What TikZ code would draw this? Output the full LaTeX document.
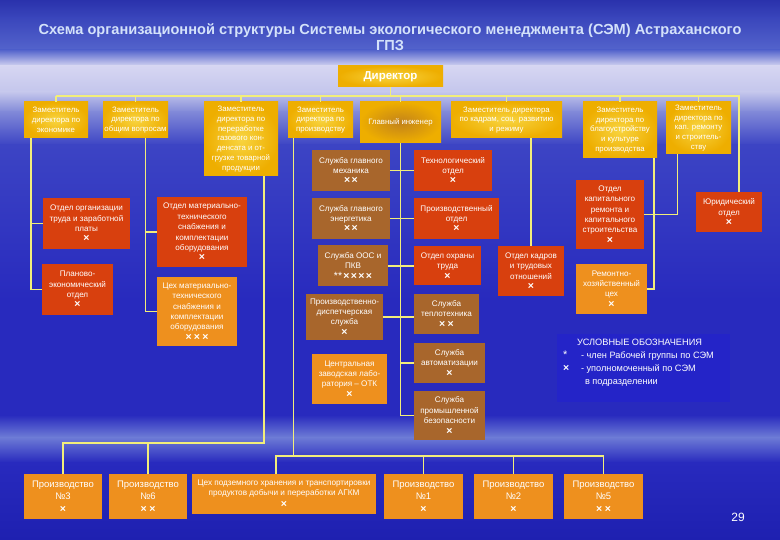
\documentclass[tikz,border=0pt]{standalone}
\usepackage{fontspec}
\setmainfont{Liberation Sans}
\usetikzlibrary{calc}
\usetikzlibrary{positioning, shapes}

\definecolor{titleblue}{HTML}{D4E2FA}
\definecolor{yellowbox}{HTML}{EEAE00}
\definecolor{yellowlight}{HTML}{F8D440}
\definecolor{glcenter}{HTML}{C2821A}
\definecolor{redbox}{HTML}{D8400E}
\definecolor{brownbox}{HTML}{A8662C}
\definecolor{orangebox}{HTML}{EE901E}
\definecolor{linkyellow}{HTML}{F2EE7A}
\definecolor{legendblue}{HTML}{2424C8}
\definecolor{bgTop}{HTML}{2A32AC}
\definecolor{bgUpper}{HTML}{3A46BC}
\definecolor{bgTitle}{HTML}{5464CC}
\definecolor{bgPale}{HTML}{D6D6F2}
\definecolor{bgSoft}{HTML}{C4C6EC}
\definecolor{bgFade}{HTML}{8088D8}
\definecolor{bgMid}{HTML}{3C44C4}
\definecolor{bgDeep}{HTML}{282ABE}
\definecolor{bgStreak}{HTML}{6E7CD6}
\definecolor{bgBottom}{HTML}{1E20B0}

\newcommand\crs{{\fontsize{10.5}{10.5}\selectfont\bfseries ×}}

\tikzset{
  sz/.style 2 args={minimum width=#1pt, minimum height=#2pt},
  box/.style={rectangle, align=center, text=white, inner sep=1pt, font=\fontsize{8.1}{10.4}\selectfont},
  ybox/.style={box, inner color=yellowlight, outer color=yellowbox, font=\fontsize{7.8}{9.8}\selectfont},
  rbox/.style={box, fill=redbox},
  bbox/.style={box, fill=brownbox},
  obox/.style={box, fill=orangebox},
  pbox/.style={obox, font=\fontsize{9.5}{12.5}\selectfont},
  link/.style={draw=linkyellow, line width=1.4pt}
}

\begin{document}
\begin{tikzpicture}[x=1pt,y=-1pt]
\useasboundingbox (0,0) rectangle (780,540);
% фон
\shade [top color=bgTop, bottom color=bgUpper] (0,0) rectangle (780,18.5);
\shade [top color=bgUpper, bottom color=bgTitle] (0,18) rectangle (780,50.5);
\shade [top color=bgTitle, bottom color=bgPale] (0,50) rectangle (780,66.5);
\shade [top color=bgPale, bottom color=bgSoft] (0,66) rectangle (780,92.5);
\shade [top color=bgSoft, bottom color=bgFade] (0,92) rectangle (780,112.5);
\shade [top color=bgFade, bottom color=bgMid] (0,112) rectangle (780,145.5);
\shade [top color=bgMid, bottom color=bgDeep] (0,145) rectangle (780,300.5);
\shade [top color=bgDeep, bottom color=bgDeep] (0,300) rectangle (780,415.5);
\shade [top color=bgDeep, bottom color=bgStreak] (0,415) rectangle (780,437.5);
\shade [top color=bgStreak, bottom color=bgDeep] (0,437) rectangle (780,462.5);
\shade [top color=bgDeep, bottom color=bgBottom] (0,462) rectangle (780,540);

\node [font=\bfseries\fontsize{14.6}{16}\selectfont, text=titleblue, align=center] (title) at (390,37)
  {Схема организационной структуры Системы экологического менеджмента (СЭМ) Астраханского\\ГПЗ};
\node [ybox, sz={105}{21}, font=\bfseries\fontsize{11.5}{13}\selectfont] (dir) at (390.5,76.5) {Директор};

% заместители
\node [ybox, sz={64}{36}] (zEc) at (56,120) {Заместитель\\директора по\\экономике};
\node [ybox, sz={65}{36}] (zObs) at (135.5,120) {Заместитель\\директора по\\общим вопросам};
\node [ybox, sz={74}{74}] (zPer) at (241,139) {Заместитель\\директора по\\переработке\\газового кон-\\денсата и от-\\грузке товарной\\продукции};
\node [ybox, sz={65}{36}] (zPro) at (320.5,120) {Заместитель\\директора по\\производству};
\node [ybox, sz={81}{41}, inner color=glcenter] (glIng) at (400.5,122.5) {Главный инженер};
\node [ybox, sz={111}{36}] (zKad) at (506.5,120) {Заместитель директора\\по кадрам, соц. развитию\\и режиму};
\node [ybox, sz={74}{56}] (zBlag) at (620,130) {Заместитель\\директора по\\благоустройству\\и культуре\\производства};
\node [ybox, sz={65}{52}] (zKap) at (698.5,128) {Заместитель\\директора по\\кап. ремонту\\и строитель-\\ству};

% отделы и службы
\node [rbox, sz={87}{51}] (otdOrg) at (86.5,223.5) {Отдел организации\\труда и заработной\\платы\\\crs};
\node [rbox, sz={71}{51}] (planEk) at (77.5,289.5) {Планово-\\экономический\\отдел\\\crs};
\node [rbox, sz={90}{70}] (otdMTS) at (202,232) {Отдел материально-\\технического\\снабжения и\\комплектации\\оборудования\\\crs};
\node [obox, sz={80}{69}] (cehMTS) at (197,311.5) {Цех материально-\\технического\\снабжения и\\комплектации\\оборудования\\\crs\ \crs\ \crs};
\node [bbox, sz={78}{41}] (mech) at (351,170.5) {Служба главного\\механика\\\crs\,\crs};
\node [rbox, sz={78}{41}] (tech) at (453,170.5) {Технологический\\отдел\\\crs};
\node [bbox, sz={78}{41}] (energ) at (351,218.5) {Служба главного\\энергетика\\\crs\,\crs};
\node [rbox, sz={85}{41}] (proizv) at (456.5,218.5) {Производственный\\отдел\\\crs};
\node [bbox, sz={70}{41}] (oos) at (353,266) {Служба ООС и\\ПКВ\\{\fontsize{10.5}{10.5}\selectfont**}\,\crs\,\crs\,\crs\,\crs};
\node [rbox, sz={67}{39}] (ohr) at (447.5,266) {Отдел охраны\\труда\\\crs};
\node [rbox, sz={66}{50}] (otdKad) at (531,271) {Отдел кадров\\и трудовых\\отношений\\\crs};
\node [bbox, sz={77}{46}] (disp) at (344.5,317) {Производственно-\\диспетчерская\\служба\\\crs};
\node [bbox, sz={65}{40}] (teplo) at (446.5,314) {Служба\\теплотехника\\\crs\ \crs};
\node [obox, sz={75}{50}] (lab) at (349.5,379) {Центральная\\заводская лабо-\\ратория -- ОТК\\\crs};
\node [bbox, sz={71}{40}] (autom) at (449.5,363) {Служба\\автоматизации\\\crs};
\node [bbox, sz={71}{49}] (bezop) at (449.5,415.5) {Служба\\промышленной\\безопасности\\\crs};
\node [rbox, sz={68}{69}] (otdKR) at (610,214.5) {Отдел\\капитального\\ремонта и\\капитального\\строительства\\\crs};
\node [obox, sz={71}{50}] (remCeh) at (611.5,289) {Ремонтно-\\хозяйственный\\цех\\\crs};
\node [rbox, sz={66}{40}] (jur) at (729,212) {Юридический\\отдел\\\crs};

% производства
\node [pbox, sz={78}{45}] (pr3) at (63,496.5) {Производство\\№3\\\crs};
\node [pbox, sz={78}{45}] (pr6) at (148,496.5) {Производство\\№6\\\crs\ \crs};
\node [obox, sz={184}{40}, font=\fontsize{8.2}{9.6}\selectfont] (cehPH) at (284,494) {Цех подземного хранения и транспортировки\\продуктов добычи и переработки АГКМ\\[3pt]\crs};
\node [pbox, sz={79}{45}] (pr1) at (423.5,496.5) {Производство\\№1\\\crs};
\node [pbox, sz={79}{45}] (pr2) at (513.5,496.5) {Производство\\№2\\\crs};
\node [pbox, sz={79}{45}] (pr5) at (603.5,496.5) {Производство\\№5\\\crs\ \crs};

% связи
\coordinate (busY) at (390,96);
\draw [link] (dir.south) -- (dir.south |- busY);
\draw [link] (zEc.north |- busY) -- ([xshift=10pt]jur.north |- busY) -- ([xshift=10pt]jur.north);
\foreach \n in {zEc,zObs,zPer,zPro,glIng,zKad,zBlag,zKap}
  \draw [link] (\n.north) -- (\n.north |- busY);

\draw [link] ([xshift=-25pt]zEc.south) |- (otdOrg.west);
\draw [link] ([xshift=-25pt]zEc.south) |- (planEk.west);
\draw [link] ([xshift=10pt]zObs.south) |- (otdMTS.west);
\draw [link] ([xshift=10pt]zObs.south) |- (cehMTS.west);

\coordinate (lowA) at (0,443);
\coordinate (lowB) at (0,456);
\draw [link] ([xshift=23pt]zPer.south) |- (pr3.north |- lowA) -- (pr3.north);
\draw [link] (pr6.north) -- (pr6.north |- lowA);
\draw [link] ([xshift=-27pt]zPro.south) -- ([xshift=-27pt]zPro.south |- lowB);
\draw [link] ([xshift=-8pt]cehPH.north) |- (pr5.north |- lowB) -- (pr5.north);
\foreach \n in {pr1,pr2}
  \draw [link] (\n.north) -- (\n.north |- lowB);

\draw [link] (glIng.south) |- (bezop.west);
\draw [link] (autom.west) -- (autom.west -| glIng.south);
\draw [link] (mech.east) -- (tech.west);
\draw [link] (energ.east) -- (proizv.west);
\draw [link] (oos.east) -- (ohr.west);
\draw [link] (disp.east) -- (disp.east -| teplo.west);

\draw [link] (otdKad.north) -- (otdKad.north |- zKad.south);
\draw [link] ([xshift=34pt]zBlag.south) |- (remCeh.east);
\draw [link] ([xshift=-21pt]zKap.south) |- (otdKR.east);

% условные обозначения
\node [fill=legendblue, sz={173}{68}] (legend) at (643.5,368) {};
\node [text=white, font=\fontsize{9.2}{13}\selectfont, align=left, anchor=north west, inner sep=0pt] (legendtext)
  at ([shift={(6,5)}]legend.north west)
  {\hspace*{14pt}УСЛОВНЫЕ ОБОЗНАЧЕНИЯ\\
   \makebox[18pt][l]{\fontsize{11}{11}\selectfont *}- член Рабочей группы по СЭМ\\
   \makebox[18pt][l]{\crs}- уполномоченный по СЭМ\\
   \hspace*{22pt}в подразделении};

\node [text=white, font=\fontsize{12}{14}\selectfont] (pnum) at (738,517) {29};
\end{tikzpicture}
\end{document}
